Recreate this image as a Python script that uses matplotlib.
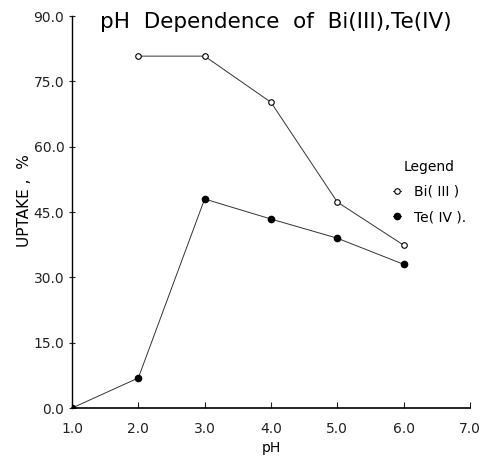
import matplotlib.pyplot as plt

ph = [1.0, 2.0, 3.0, 4.0, 5.0, 6.0]
bi_ph = [2.0, 3.0, 4.0, 5.0, 6.0]
bi_uptake = [80.8, 80.8, 70.2, 47.3, 37.4]
te_uptake = [0.0, 6.9, 48.0, 43.4, 39.0, 33.0]

xticks = [1.0, 2.0, 3.0, 4.0, 5.0, 6.0, 7.0]
yticks = [0.0, 15.0, 30.0, 45.0, 60.0, 75.0, 90.0]


def main():
    fig = plt.figure(figsize=(4.83, 4.59), dpi=100)
    ax = fig.add_axes([0.149, 0.111, 0.824, 0.854])

    ax.plot(bi_ph, bi_uptake, color='#333333', lw=0.7, marker='o', ms=4,
            mfc='white', mec='black', mew=0.8, label='Bi( III )')
    ax.plot(ph, te_uptake, color='#333333', lw=0.7, marker='o', ms=4.5,
            mfc='black', mec='black', label='Te( IV ).')

    ax.set_xlim(1.0, 7.0)
    ax.set_ylim(0.0, 90.0)
    ax.set_xticks(xticks)
    ax.set_xticklabels(['%.1f' % t for t in xticks])
    ax.set_yticks(yticks)
    ax.set_yticklabels(['%.1f' % t for t in yticks])
    ax.tick_params(axis='both', labelsize=10, colors='#222222', length=4)
    ax.tick_params(axis='y', direction='inout')
    ax.tick_params(axis='x', direction='in', pad=10)

    for s in ('top', 'right'):
        ax.spines[s].set_visible(False)
    ax.spines['left'].set_linewidth(1.0)
    ax.spines['bottom'].set_linewidth(1.2)

    ax.set_xlabel('pH', fontsize=10, labelpad=4)
    ax.set_ylabel('UPTAKE ,  %', fontsize=11)
    ax.yaxis.set_label_coords(-0.1, 0.53)
    ax.text(0.513, 0.985, 'pH  Dependence  of  Bi(III),Te(IV)', fontsize=15.5,
            transform=ax.transAxes, ha='center', va='center')

    ax.legend(title='Legend', frameon=False, loc='upper left',
              bbox_to_anchor=(0.775, 0.665), fontsize=10, title_fontsize=10,
              handlelength=0.6, handletextpad=0.9, labelspacing=0.8)

    fig.savefig('out.png', dpi=100)


if __name__ == "__main__":
    main()
